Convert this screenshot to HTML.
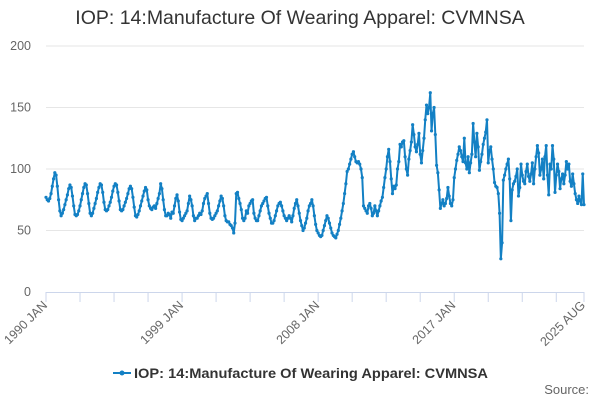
<!DOCTYPE html>
<html><head><meta charset="utf-8"><style>
body{margin:0;background:#fff;font-family:"Liberation Sans",sans-serif}
svg{display:block}
</style></head><body>
<svg id="c" width="600" height="400">
<text x="300" y="24" text-anchor="middle" font-size="19.5" fill="#333">IOP: 14:Manufacture Of Wearing Apparel: CVMNSA</text>
<g id="grid"></g>
<g id="xaxis"></g>
<g id="yaxis"></g>
<g id="series"></g>
<g>
<line x1="113" y1="373" x2="131" y2="373" stroke="#1380c4" stroke-width="2"/>
<circle cx="122" cy="373" r="2.5" fill="#1380c4"/>
<text x="134" y="378" font-size="14" font-weight="bold" fill="#333" textLength="354" lengthAdjust="spacingAndGlyphs">IOP: 14:Manufacture Of Wearing Apparel: CVMNSA</text>
</g>
<text x="589" y="394" text-anchor="end" font-size="13" fill="#666">Source:</text>
</svg>
<script>
const startYear = 1990;
const yTicks = [0,50,100,150,200];
const xTickLabels = ["1990 JAN","1999 JAN","2008 JAN","2017 JAN","2025 AUG"];
const xLabelIdx = [0,108,216,324,427];
const values = [
77,75,74,76,80,86,92,97,95,86,75,66,
62,64,67,71,75,79,84,87,85,78,70,63,
62,63,66,70,75,80,85,88,87,80,72,64,
62,64,68,72,76,81,85,88,87,81,73,67,
66,67,70,73,77,82,86,88,87,81,74,67,
66,67,70,73,76,80,84,86,84,77,69,62,
61,63,66,70,74,78,82,85,83,75,70,68,
67,69,70,68,72,76,80,88,84,75,67,62,
62,64,63,60,65,64,70,76,79,74,65,59,
58,60,62,64,66,72,78,75,70,62,58,60,
60,62,64,63,66,72,76,78,80,72,64,60,
59,60,62,64,66,70,74,78,76,70,62,58,
57,57,55,54,52,48,56,80,81,76,72,67,
60,58,60,66,64,70,72,74,75,64,60,58,
58,62,66,70,72,74,76,77,70,64,60,56,
56,58,62,66,70,72,73,70,66,62,60,58,
60,62,60,57,62,68,72,75,70,64,58,54,
50,52,56,60,66,70,72,75,70,62,55,50,
48,46,45,46,50,54,58,62,60,56,52,48,
46,45,44,47,50,55,60,66,72,80,88,98,
100,104,108,112,114,110,106,105,106,104,100,93,
70,68,66,64,70,72,68,62,64,70,66,62,
66,70,74,77,85,93,100,110,116,106,92,80,
86,84,87,100,106,120,118,122,123,110,100,95,
108,115,122,136,128,118,114,120,129,112,105,115,
125,140,152,145,150,162,131,145,150,128,103,97,
83,68,72,75,70,72,76,85,78,72,70,75,
93,100,107,112,118,115,110,106,125,105,100,110,
97,105,112,137,122,110,129,118,99,106,112,120,
125,130,140,105,115,118,108,100,89,86,85,80,
64,27,40,91,95,100,104,108,92,58,83,88,
90,94,100,78,85,104,95,90,88,98,104,94,
90,96,105,88,100,110,119,113,95,100,108,92,
110,119,95,79,104,100,119,108,81,95,104,98,
84,92,96,88,95,106,100,104,90,86,96,88,
80,75,72,78,74,71,96,71
];
const NS="http://www.w3.org/2000/svg";
const X0=46,X1=584,Y0=292,Y1=46,YMAX=200;
const n=values.length;
const xs=i=>X0+(X1-X0)*i/(n-1);
const ys=v=>Y0-(Y0-Y1)*v/YMAX;
function mk(t,a,p){const e=document.createElementNS(NS,t);for(const k in a)e.setAttribute(k,a[k]);p.appendChild(e);return e;}
const grid=document.getElementById('grid'),ya=document.getElementById('yaxis'),xa=document.getElementById('xaxis'),se=document.getElementById('series');
yTicks.forEach(v=>{
  if(v>0){const l=mk('line',{x1:X0,x2:X1,y1:ys(v),y2:ys(v),stroke:'#e6e6e6'},grid);
  
  }
  const t=mk('text',{x:31,y:ys(v)+4,'text-anchor':'end','font-size':12.5,fill:'#666'},ya);
  
  
  t.textContent=v;
});
mk('line',{x1:X0,x2:X1,y1:Y0+0.5,y2:Y0+0.5,stroke:'#ccd6eb'},xa);
for(let i=0;i<n;i+=27){const tk=mk('line',{x1:xs(i),x2:xs(i),y1:Y0,y2:Y0+10,stroke:'#ccd6eb'},xa);
  
  }
mk('line',{x1:xs(n-1),x2:xs(n-1),y1:Y0,y2:Y0+10,stroke:'#ccd6eb'},xa);
xTickLabels.forEach((s,k)=>{
  const x=xs(xLabelIdx[k]);
  const t=mk('text',{x:x+2,y:Y0+14,'text-anchor':'end','font-size':12.5,fill:'#666',transform:`rotate(-45 ${x+2} ${Y0+14})`},xa);
  
  
  t.textContent=s;
});
let d='';values.forEach((v,i)=>{d+=(i?'L':'M')+xs(i).toFixed(2)+' '+ys(v).toFixed(2);});
const p=mk('path',{d:d,fill:'none',stroke:'#1380c4','stroke-width':2,'stroke-linejoin':'round'},se);


values.forEach((v,i)=>{const c=mk('circle',{cx:xs(i),cy:ys(v),r:1.6,fill:'#1380c4'},se);
  
  });
</script>
</body></html>
